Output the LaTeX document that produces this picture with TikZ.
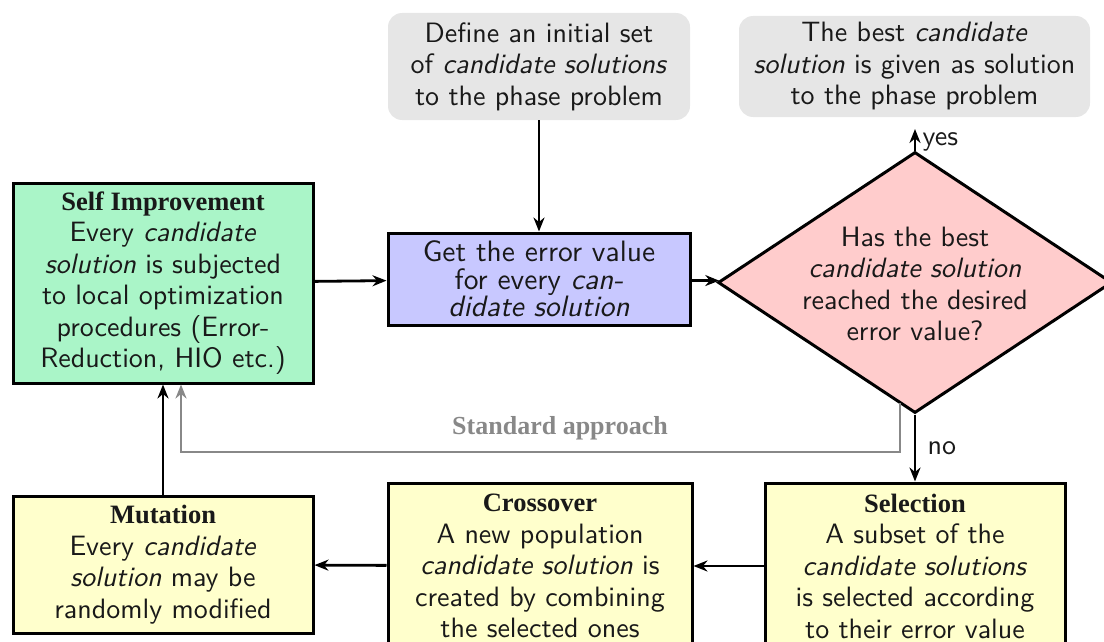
\documentclass[tikz,border=0pt]{standalone}
\usepackage{fontspec}
% text face: the 10pt design size of Latin Modern Sans, scaled up
\setsansfont{lmsans10}[Extension=.otf, UprightFont=*-regular, ItalicFont=*-oblique,
  BoldFont=*-bold, BoldItalicFont=*-boldoblique]
\newfontfamily\headfont{Liberation Serif}
\usetikzlibrary{arrows.meta,shapes.geometric}

\definecolor{boxgreen}{RGB}{170,245,200}
\definecolor{boxblue}{RGB}{200,200,255}
\definecolor{boxpink}{RGB}{255,204,204}
\definecolor{boxyellow}{RGB}{255,255,204}
\definecolor{boxgray}{RGB}{230,230,230}
\definecolor{linegray}{RGB}{136,136,136}
\definecolor{ink}{RGB}{25,25,25}

\newcommand{\hd}[1]{{\headfont\bfseries\fontsize{26.5}{31.5}\selectfont #1}}

\tikzset{
  txt/.style={font=\sffamily\fontsize{28}{31.5}\selectfont, text=ink, align=center},
  procbox/.style={txt, draw=black, line width=3pt, inner sep=0pt},
  termbox/.style={txt, fill=boxgray, rounded corners=14pt, inner sep=0pt},
  flow/.style={line width=2.8pt, -{Stealth[length=14pt,width=11pt]}},
  approach/.style={line width=2.6pt, draw=linegray, -{Stealth[length=14pt,width=11pt]}},
}

\begin{document}
\begin{tikzpicture}[x=1pt,y=-1pt]
\useasboundingbox (0,0) rectangle (1104,642);

% start and end terminals
\node[termbox, minimum width=302pt, minimum height=107pt] (init) at (539,66.5)
  {Define an initial set\\of \textit{candidate solutions}\\to the phase problem};
\node[termbox, minimum width=351pt, minimum height=101pt] (best) at (914.5,66.5)
  {The best \textit{candidate}\\\textit{solution} is given as solution\\to the phase problem};

% upper row
\node[procbox, fill=boxgreen, minimum width=300pt, minimum height=200pt] (self) at (163,283)
  {\hd{Self Improvement}\\Every \textit{candidate}\\\textit{solution} is subjected\\to local optimization\\procedures (Error-\\Reduction, HIO etc.)};
\node[procbox, fill=boxblue, minimum width=302pt, minimum height=92pt,
      font=\sffamily\fontsize{29.5}{27.5}\selectfont] (err) at (539,279)
  {Get the error value\\for every \textit{can-}\\\textit{didate solution}};
\node[diamond, draw=black, line width=3pt, fill=boxpink, minimum width=394pt,
      minimum height=261pt, inner sep=0pt] (dec) at (915,282.5) {};
\node[txt] (dectext) at (915,284)
  {Has the best\\\textit{candidate solution}\\reached the desired\\error value?};

% lower row
\node[procbox, fill=boxyellow, minimum width=300pt, minimum height=137pt] (mut) at (163,564.5)
  {\hd{Mutation}\\Every \textit{candidate}\\\textit{solution} may be\\randomly modified};
\node[procbox, fill=boxyellow, minimum width=304pt, minimum height=166pt] (cross) at (540,566)
  {\hd{Crossover}\\A new population\\\textit{candidate solution} is\\created by combining\\the selected ones};
\node[procbox, fill=boxyellow, minimum width=300pt, minimum height=166pt] (sel) at (915,566)
  {\hd{Selection}\\A subset of the\\\textit{candidate solutions}\\is selected according\\to their error value};

% main flow
\draw[flow] (init) -- (err);
\draw[flow] (self) -- (err);
\draw[flow] (err) -- (dec);
\coordinate (yesend) at (915,129);
\draw[flow] (dec.north) -- (yesend)
  node[txt, anchor=west, pos=0.4, xshift=3pt] (yes) {yes};
\draw[flow] (dec.south) -- (sel.north)
  node[txt, anchor=west, midway, xshift=8pt] (no) {no};
\draw[flow] (sel) -- (cross);
\draw[flow] (cross) -- (mut);
\draw[flow] (mut) -- (self);

% shortcut without the genetic operators
\coordinate (sastart) at (900,403);
\coordinate (sacorner) at (181,452);
\draw[approach] (sastart) |- (sacorner) -- (sacorner |- self.south);
\node[text=linegray, font=\headfont\bfseries\fontsize{26}{31.5}\selectfont] (satext) at (560,428)
  {Standard approach};
\end{tikzpicture}
\end{document}
